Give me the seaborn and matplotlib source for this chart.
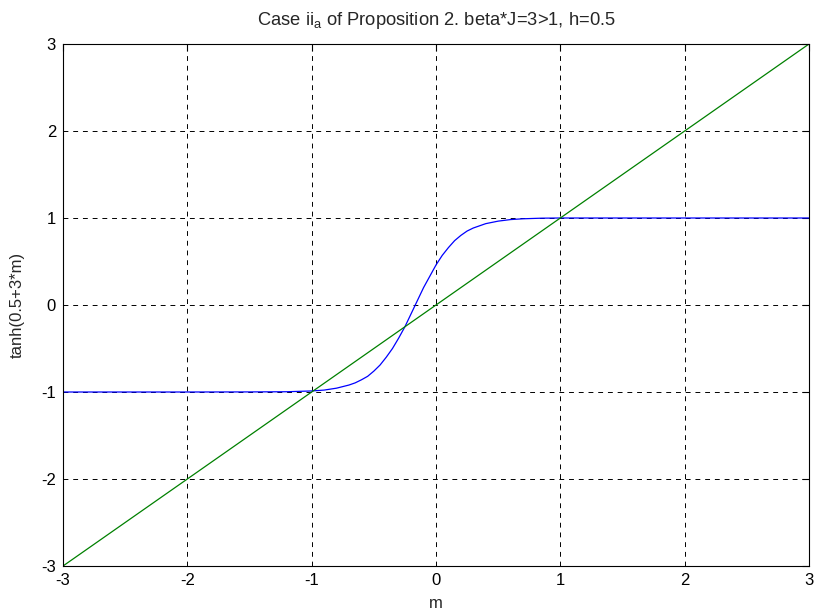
import matplotlib
matplotlib.use("Agg")
import matplotlib.pyplot as plt
import seaborn as sns
import pandas as pd

# blue curve values
m_vals = [-3.0, -2.0, -1.5, -1.2, -1.0, -0.9, -0.8, -0.7, -0.65, -0.6, -0.55, -0.5, -0.45, -0.4,
          -0.35, -0.3, -0.25, -0.2, -0.15, -0.1, -0.05, 0.0, 0.05, 0.1, 0.15, 0.2, 0.25, 0.3,
          0.35, 0.4, 0.5, 0.6, 0.7, 0.85, 1.0, 2.0, 3.0]
t_vals = [-1.0, -1.0, -0.999, -0.997, -0.988, -0.978, -0.956, -0.92, -0.895, -0.86, -0.82, -0.76,
          -0.69, -0.60, -0.50, -0.38, -0.25, -0.10, 0.05, 0.20, 0.33, 0.46, 0.57, 0.66, 0.74,
          0.80, 0.85, 0.885, 0.91, 0.935, 0.964, 0.982, 0.991, 0.998, 1.0, 1.0, 1.0]
# green identity line
line_x = [-3.0, 3.0]
line_y = [-3.0, 3.0]
ticks = [-3, -2, -1, 0, 1, 2, 3]

sns.set_style("white")
plt.rcParams['font.family'] = ['Liberation Sans', 'DejaVu Sans']
plt.rcParams['mathtext.fontset'] = 'custom'
plt.rcParams['mathtext.rm'] = 'Liberation Sans'
plt.rcParams['mathtext.it'] = 'Liberation Sans'

fig = plt.figure(figsize=(8.19, 6.15), dpi=100)
ax = fig.add_axes([63 / 819, 1 - 566 / 615, 746 / 819, 522 / 615])

df1 = pd.DataFrame({"m": m_vals, "t": t_vals})
df2 = pd.DataFrame({"m": line_x, "t": line_y})
sns.lineplot(data=df1, x="m", y="t", ax=ax, color="#0000ff", linewidth=0.9, sort=False)
sns.lineplot(data=df2, x="m", y="t", ax=ax, color="#008000", linewidth=0.9, sort=False)

ax.set_xlim(-3, 3)
ax.set_ylim(-3, 3)
ax.set_xticks(ticks)
ax.set_yticks(ticks)
ax.set_xticklabels([str(t) for t in ticks])
ax.set_yticklabels([str(t) for t in ticks])
ax.grid(True, color="black", linestyle=(0, (5, 5)), linewidth=0.7)
ax.set_axisbelow(True)
ax.tick_params(direction="in", top=True, right=True, length=5, width=0.8,
               labelsize=12, colors="black", pad=5)
for s in ax.spines.values():
    s.set_color("black")
    s.set_linewidth(0.8)
    s.set_visible(True)

ax.set_xlabel("m", fontsize=12, labelpad=6)
ax.set_ylabel("tanh(0.5+3*m)", fontsize=12, labelpad=12)
ax.set_title("Case ii$_{\\mathrm{a}}$ of Proposition 2. beta*J=3>1, h=0.5", fontsize=13.2, pad=14)

fig.savefig("out.png", dpi=100)
